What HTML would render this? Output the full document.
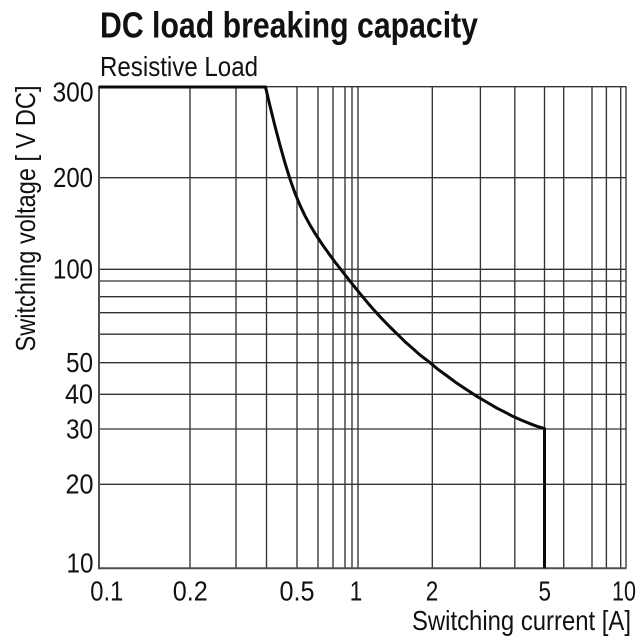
<!DOCTYPE html>
<html>
<head>
<meta charset="utf-8">
<style>
  html, body { margin: 0; padding: 0; background: #fff; }
  svg { display: block; }
  text { font-family: "Liberation Sans", sans-serif; fill: #111; }
</style>
</head>
<body>
<svg width="640" height="640" viewBox="0 0 640 640" xmlns="http://www.w3.org/2000/svg">
  <rect x="0" y="0" width="640" height="640" fill="#fff"/>

  <!-- Titles -->
  <text x="100" y="37.3" font-size="36" font-weight="bold" textLength="378" lengthAdjust="spacingAndGlyphs">DC load breaking capacity</text>
  <text x="100" y="76" font-size="28" textLength="158" lengthAdjust="spacingAndGlyphs">Resistive Load</text>

  <!-- Vertical grid lines -->
  <g stroke="#333" stroke-width="1.35" fill="none">
    <line x1="190" y1="86.7" x2="190" y2="568.3"/>
    <line x1="236" y1="86.7" x2="236" y2="568.3"/>
    <line x1="266.5" y1="86.7" x2="266.5" y2="568.3"/>
    <line x1="297" y1="86.7" x2="297" y2="568.3"/>
    <line x1="318" y1="86.7" x2="318" y2="568.3"/>
    <line x1="333" y1="86.7" x2="333" y2="568.3"/>
    <line x1="345" y1="86.7" x2="345" y2="568.3"/>
    <line x1="352" y1="86.7" x2="352" y2="568.3"/>
    <line x1="358" y1="86.7" x2="358" y2="568.3"/>
    <line x1="432.3" y1="86.7" x2="432.3" y2="568.3"/>
    <line x1="480.4" y1="86.7" x2="480.4" y2="568.3"/>
    <line x1="514.8" y1="86.7" x2="514.8" y2="568.3"/>
    <line x1="544.5" y1="86.7" x2="544.5" y2="568.3"/>
    <line x1="563.7" y1="86.7" x2="563.7" y2="568.3"/>
    <line x1="592" y1="86.7" x2="592" y2="568.3"/>
    <line x1="606.4" y1="86.7" x2="606.4" y2="568.3"/>
    <line x1="620.7" y1="86.7" x2="620.7" y2="568.3"/>
    <line x1="626" y1="86.7" x2="626" y2="568.3"/>
  </g>

  <!-- Horizontal grid lines -->
  <g stroke="#333" stroke-width="1.35" fill="none">
    <line x1="99" y1="86.7" x2="626.5" y2="86.7"/>
    <line x1="99" y1="177.7" x2="626.5" y2="177.7"/>
    <line x1="99" y1="269.3" x2="626.5" y2="269.3"/>
    <line x1="99" y1="281" x2="626.5" y2="281"/>
    <line x1="99" y1="296.7" x2="626.5" y2="296.7"/>
    <line x1="99" y1="312.7" x2="626.5" y2="312.7"/>
    <line x1="99" y1="334.2" x2="626.5" y2="334.2"/>
    <line x1="99" y1="362.7" x2="626.5" y2="362.7"/>
    <line x1="99" y1="394.3" x2="626.5" y2="394.3"/>
    <line x1="99" y1="429" x2="626.5" y2="429"/>
    <line x1="99" y1="484.3" x2="626.5" y2="484.3"/>
  </g>

  <!-- Axes -->
  <g stroke="#505050" stroke-width="2" fill="none">
    <line x1="99" y1="86" x2="99" y2="569.3"/>
    <line x1="98" y1="568.3" x2="626.5" y2="568.3"/>
  </g>

  <!-- Curve -->
  <polyline fill="none" stroke="#0a0a0a" stroke-width="3" stroke-linejoin="round" stroke-linecap="butt"
    points="99,87 265.5,87 270,106 275,126.2 280,145.3 285,163 290,179.1 295,193.2 300,205.3 305,215.8 310,225 315,233.3 320,241 325,248.3 330,255.2 335,262 341,269.7 350,281.2 360,293.6 367.5,302.6 375,311.2 382.5,319.3 390,327 397.5,334.3 405,341.7 412.5,348.3 420,355 429,361.8 438,369.4 447,375.9 456,382.6 466,389.3 476,395.8 486.5,402 497,408.2 505,412.2 513,416.4 521,420 529,423.3 537,426.3 544.5,428.6 544.5,568.3"/>

  <!-- Y tick labels -->
  <g font-size="28" text-anchor="end">
    <text x="93.5" y="101.5" textLength="41" lengthAdjust="spacingAndGlyphs">300</text>
    <text x="93" y="187" textLength="40" lengthAdjust="spacingAndGlyphs">200</text>
    <text x="93" y="278.3" textLength="40" lengthAdjust="spacingAndGlyphs">100</text>
    <text x="93" y="372" textLength="27" lengthAdjust="spacingAndGlyphs">50</text>
    <text x="93" y="403.5" textLength="28" lengthAdjust="spacingAndGlyphs">40</text>
    <text x="93" y="438.3" textLength="27" lengthAdjust="spacingAndGlyphs">30</text>
    <text x="93.5" y="493.5" textLength="28" lengthAdjust="spacingAndGlyphs">20</text>
    <text x="93.5" y="572.3" textLength="27" lengthAdjust="spacingAndGlyphs">10</text>
  </g>

  <!-- X tick labels -->
  <g font-size="28" text-anchor="middle">
    <text x="106.8" y="600.7" textLength="33" lengthAdjust="spacingAndGlyphs">0.1</text>
    <text x="190.3" y="600.7" textLength="35" lengthAdjust="spacingAndGlyphs">0.2</text>
    <text x="297" y="600.7" textLength="35" lengthAdjust="spacingAndGlyphs">0.5</text>
    <text x="356" y="600.7" textLength="12.5" lengthAdjust="spacingAndGlyphs">1</text>
    <text x="432" y="600.7" textLength="12.5" lengthAdjust="spacingAndGlyphs">2</text>
    <text x="544.7" y="600.7" textLength="12.5" lengthAdjust="spacingAndGlyphs">5</text>
    <text x="624" y="600.7" textLength="24" lengthAdjust="spacingAndGlyphs">10</text>
  </g>

  <!-- Axis titles -->
  <text x="412" y="630" font-size="28" textLength="219" lengthAdjust="spacingAndGlyphs">Switching current [A]</text>
  <text transform="translate(35,218.5) rotate(-90)" x="0" y="0" font-size="28" text-anchor="middle" textLength="266" lengthAdjust="spacingAndGlyphs">Switching voltage [ V DC]</text>
</svg>
</body>
</html>
